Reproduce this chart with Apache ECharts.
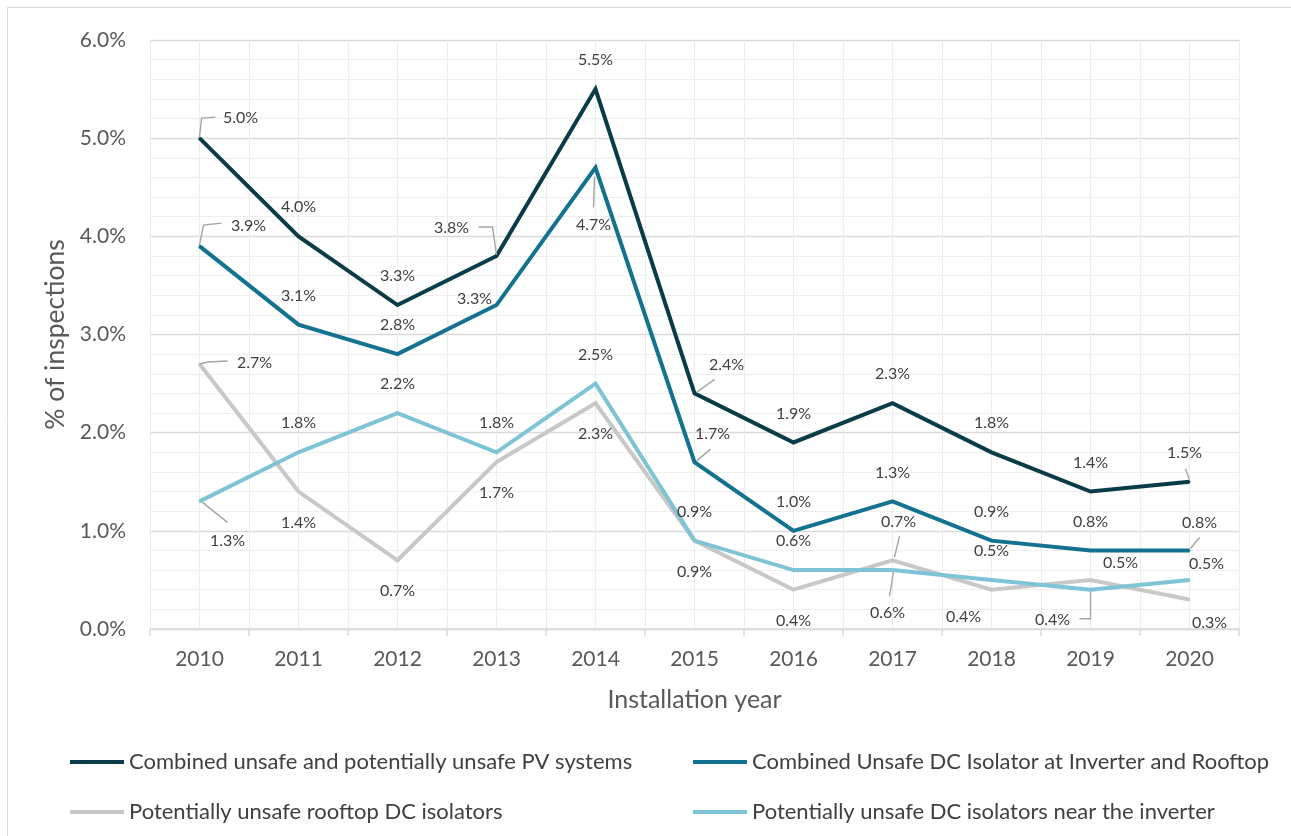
<!DOCTYPE html>
<html>
<head>
<meta charset="utf-8">
<script src="https://cdn.jsdelivr.net/npm/echarts@6/dist/echarts.min.js"></script>
<style>
  html, body { margin: 0; padding: 0; background: #fff; }
  #chart { width: 1291px; height: 836px; }
</style>
</head>
<body>
<div id="chart"></div>
<script>
// Installation years (x categories)
const years = ['2010', '2011', '2012', '2013', '2014', '2015', '2016', '2017', '2018', '2019', '2020'];

// Share of inspections (%) per installation year
const combinedUnsafe   = [5.0, 4.0, 3.3, 3.8, 5.5, 2.4, 1.9, 2.3, 1.8, 1.4, 1.5];
const combinedDcIso    = [3.9, 3.1, 2.8, 3.3, 4.7, 1.7, 1.0, 1.3, 0.9, 0.8, 0.8];
const rooftopIso       = [2.7, 1.4, 0.7, 1.7, 2.3, 0.9, 0.4, 0.7, 0.4, 0.5, 0.3];
const nearInverterIso  = [1.3, 1.8, 2.2, 1.8, 2.5, 0.9, 0.6, 0.6, 0.5, 0.4, 0.5];

// Y axis ticks (%)
const yMin = 0, yMax = 6, yStep = 1;

const seriesNames = [
  'Combined unsafe and potentially unsafe PV systems',
  'Combined Unsafe DC Isolator at Inverter and Rooftop',
  'Potentially unsafe rooftop DC isolators',
  'Potentially unsafe DC isolators near the inverter'
];
const seriesValues = [combinedUnsafe, combinedDcIso, rooftopIso, nearInverterIso];
const seriesColors = ['#0a3b49', '#12728f', '#c8c8c8', '#7fc3d6'];

// Label placement: default offset (px from the point) per series, plus
// per-point overrides with optional leader polylines (also relative px).
const defaultOffsets = [[0, -29], [0, -29], [0, 31], [0, -29]];
const labelOverrides = [
  {
    0:  { off: [41, -20], leader: [[0, -1], [2, -20], [16, -21]] },
    3:  { off: [-45, -28], leader: [[0, -1], [-4, -29], [-18, -29]] },
    5:  { off: [32, -29], leader: [[2, -1], [20, -14]] },
    10: { off: [-5, -29], leader: [[0, -2], [-4, -13]] }
  },
  {
    0:  { off: [49, -20], leader: [[0, -1], [4, -21], [22, -23]] },
    3:  { off: [-22, -6] },
    4:  { off: [-2, 57], leader: [[-1, 9], [-2, 40]] },
    5:  { off: [18, -28], leader: [[2, -1], [16, -13]] },
    10: { off: [10, -28], leader: [[1, -2], [10, -13]] }
  },
  {
    0:  { off: [55, -1], leader: [[0, 0], [8, -2], [28, -3]] },
    7:  { off: [6, -38], leader: [[2, -3], [7, -24]] },
    8:  { off: [-28, 27] },
    9:  { off: [30, -17] },
    10: { off: [20, 23] }
  },
  {
    0:  { off: [28, 39], leader: [[3, 1], [28, 21]] },
    7:  { off: [-5, 43], leader: [[1, 2], [-3, 26]] },
    9:  { off: [-38, 30], leader: [[0, 2], [0, 29], [-11, 29]] },
    10: { off: [17, -16] }
  }
];

const FONT = 'Lato, "Open Sans", sans-serif';
const pct = v => v.toFixed(1) + '%';

// Line series with their value labels
const lineSeries = seriesValues.map((vals, s) => ({
  name: seriesNames[s],
  type: 'line',
  xAxisIndex: 0,
  data: vals.map((v, i) => {
    const o = labelOverrides[s][i];
    const item = { value: v };
    if (o) item.label = { offset: o.off };
    return item;
  }),
  symbol: 'circle',
  symbolSize: 2,
  showSymbol: true,
  lineStyle: { color: seriesColors[s], width: 4, join: 'miter' },
  itemStyle: { color: seriesColors[s] },
  label: {
    show: true,
    position: 'inside',
    offset: defaultOffsets[s],
    formatter: p => pct(p.value),
    color: '#404040',
    fontFamily: FONT,
    fontSize: 16
  },
  emphasis: { disabled: true },
  z: 3
}));

// Leader lines joining moved labels to their points
const leaders = [];
labelOverrides.forEach((ov, s) => {
  Object.keys(ov).forEach(k => {
    if (ov[k].leader) leaders.push({ i: +k, v: seriesValues[s][+k], pts: ov[k].leader });
  });
});

const leaderSeries = {
  type: 'custom',
  xAxisIndex: 0,
  silent: true,
  z: 4,
  data: leaders.map(l => [l.i, l.v]),
  renderItem: (params, api) => {
    const p = api.coord([api.value(0), api.value(1)]);
    const pts = leaders[params.dataIndex].pts.map(d => [p[0] + d[0], p[1] + d[1]]);
    return {
      type: 'polyline',
      shape: { points: pts },
      style: { stroke: '#a5a5a5', lineWidth: 1.4, fill: null }
    };
  }
};

// Half-category helper axis for the vertical grid at centres and boundaries
const halfCats = years.flatMap(y => [y + 'a', y + 'b']);

const chart = echarts.init(document.getElementById('chart'), null, { renderer: 'canvas' });
chart.setOption({
  animation: false,
  backgroundColor: '#ffffff',
  textStyle: { fontFamily: FONT },
  graphic: [{
    type: 'rect',
    shape: { x: 7.5, y: 7.5, width: 1400, height: 1000 },
    style: { fill: null, stroke: '#d9d9d9', lineWidth: 1 },
    silent: true,
    z: -10
  }],
  grid: { left: 150, right: 52, top: 40, bottom: 207, containLabel: false },
  xAxis: [
    {
      type: 'category',
      data: years,
      boundaryGap: true,
      name: 'Installation year',
      nameLocation: 'middle',
      nameGap: 58,
      nameTextStyle: { color: '#595959', fontSize: 25, fontFamily: FONT, verticalAlign: 'top' },
      axisLine: { show: true, lineStyle: { color: '#d9d9d9', width: 1.5 } },
      axisTick: { show: true, length: 7, lineStyle: { color: '#d9d9d9', width: 1.5 } },
      axisLabel: { color: '#595959', fontSize: 21, fontFamily: FONT, margin: 20 },
      splitLine: { show: false }
    },
    {
      type: 'category',
      data: halfCats,
      boundaryGap: true,
      position: 'bottom',
      axisLine: { show: false },
      axisTick: { show: false },
      axisLabel: { show: false },
      splitLine: { show: true, interval: 0, lineStyle: { color: '#ececec', width: 1 } }
    }
  ],
  yAxis: {
    type: 'value',
    min: yMin,
    max: yMax,
    interval: yStep,
    name: '% of inspections',
    nameLocation: 'middle',
    nameGap: 79,
    nameRotate: 90,
    nameTextStyle: { color: '#595959', fontSize: 26.5, fontFamily: FONT },
    axisLine: { show: false },
    axisTick: { show: false },
    axisLabel: { color: '#595959', fontSize: 21, fontFamily: FONT, margin: 24, formatter: v => pct(v) },
    splitLine: { show: true, lineStyle: { color: '#d9d9d9', width: 1.3 } },
    minorTick: { show: false, splitNumber: 5 },
    minorSplitLine: { show: true, lineStyle: { color: '#efefef', width: 1 } }
  },
  legend: [
    {
      data: [seriesNames[0], seriesNames[2]],
      orient: 'vertical',
      left: 65,
      top: 746,
      itemGap: 28,
      itemWidth: 54,
      itemHeight: 4,
      icon: 'rect',
      textStyle: { color: '#404040', fontSize: 22, fontFamily: FONT }
    },
    {
      data: [seriesNames[1], seriesNames[3]],
      orient: 'vertical',
      left: 688,
      top: 746,
      itemGap: 28,
      itemWidth: 54,
      itemHeight: 4,
      icon: 'rect',
      textStyle: { color: '#404040', fontSize: 22, fontFamily: FONT }
    }
  ],
  series: [...lineSeries, leaderSeries]
});
</script>
</body>
</html>
